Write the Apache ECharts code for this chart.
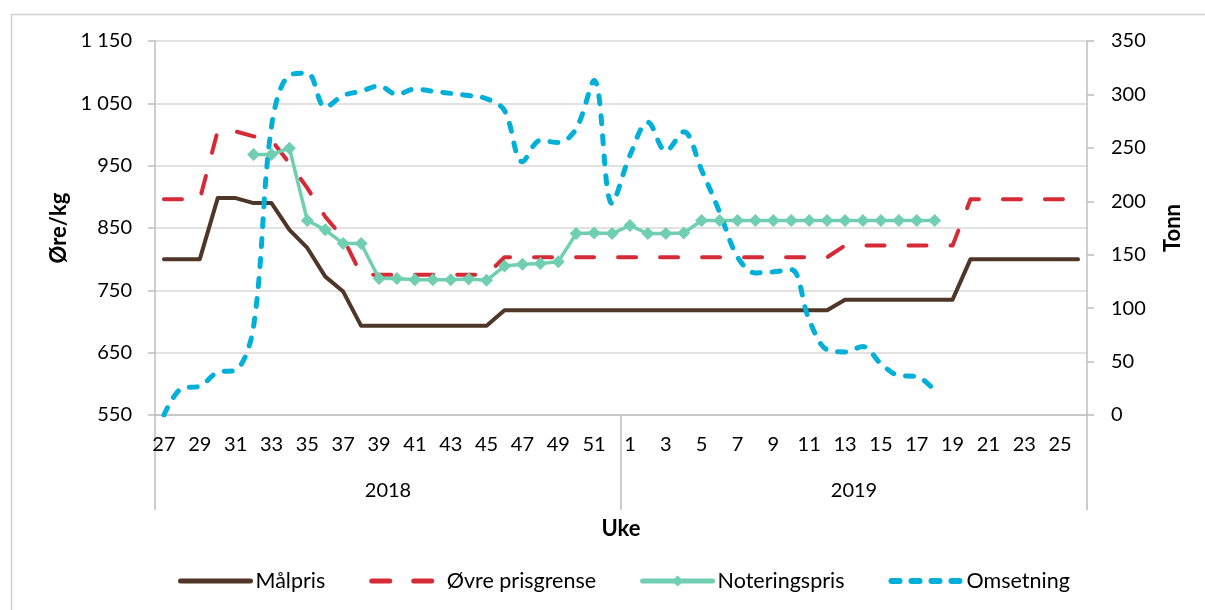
<!DOCTYPE html>
<html>
<head>
<meta charset="utf-8">
<script src="https://cdn.jsdelivr.net/npm/echarts@6/dist/echarts.min.js"></script>
<style>
html, body { margin: 0; padding: 0; background: #fff; }
#chart { width: 1205px; height: 610px; }
</style>
</head>
<body>
<div id="chart"></div>
<script>
// Uker: 2018 uke 27-52, 2019 uke 1-26
var weeks = ['27','28','29','30','31','32','33','34','35','36','37','38','39','40','41','42','43','44','45','46','47','48','49','50','51','52',
             '1','2','3','4','5','6','7','8','9','10','11','12','13','14','15','16','17','18','19','20','21','22','23','24','25','26'];
var years = ['2018', '2019'];

var malpris = [800, 800, 800, 898, 898, 890, 890, 847, 818, 772, 748, 693, 693, 693, 693, 693, 693, 693, 693, 718, 718, 718, 718, 718, 718, 718,
               718, 718, 718, 718, 718, 718, 718, 718, 718, 718, 718, 718, 735, 735, 735, 735, 735, 735, 735, 800, 800, 800, 800, 800, 800, 800];

var ovrePrisgrense = [896, 896, 896, 1006, 1005, 997, 991, 954, 914, 868, 834, 775, 775, 775, 775, 775, 775, 775, 775, 803, 803, 803, 803, 803, 803, 803,
                      803, 803, 803, 803, 803, 803, 803, 803, 803, 803, 803, 803, 822, 822, 822, 822, 822, 822, 822, 896, 896, 896, 896, 896, 896, 896];

var noteringspris = [null, null, null, null, null, 968, 968, 978, 862, 847, 825, 825, 769, 769, 767, 767, 767, 768, 766, 789, 792, 793, 796, 841, 842, 841,
                     854, 841, 841, 842, 862, 862, 862, 862, 862, 862, 862, 862, 862, 862, 862, 862, 862, 862, null, null, null, null, null, null, null, null];

var omsetning = [0, 25, 27, 40, 42, 83, 270, 318, 320, 288, 299, 303, 308, 300, 305, 303, 301, 299, 296, 285, 237, 257, 255, 268, 313, 198,
                 243, 274, 247, 265, 229, 190, 148, 133, 134, 136, 89, 61, 59, 64, 48, 37, 36, 23, null, null, null, null, null, null, null, null];

var fontName = 'Lato';
var axisGray = '#bfbfbf';

function spaceThousands(v) {
    if (v >= 1000) {
        var rest = String(v % 1000);
        while (rest.length < 3) rest = '0' + rest;
        return Math.floor(v / 1000) + ' ' + rest;
    }
    return String(v);
}

var chart = echarts.init(document.getElementById('chart'));
var option = {
    backgroundColor: '#ffffff',
    textStyle: { fontFamily: fontName, color: '#000' },
    animation: false,
    graphic: [
        {
            type: 'rect',
            left: 9, top: 12,
            shape: { width: 1400, height: 800 },
            style: { fill: 'none', stroke: '#d0d0d0', lineWidth: 1.5 },
            silent: true
        }
    ],
    grid: { left: 155, right: 118, top: 41, bottom: 195 },
    legend: {
        top: 565,
        left: 173,
        itemWidth: 70,
        itemHeight: 14,
        itemGap: 44,
        textStyle: { fontFamily: fontName, fontSize: 21.5, color: '#000' },
        data: [
            { name: 'Målpris', itemStyle: { opacity: 0 }, lineStyle: { width: 5, cap: 'round' } },
            { name: 'Øvre prisgrense', itemStyle: { opacity: 0 }, lineStyle: { width: 5, cap: 'round' } },
            { name: 'Noteringspris', lineStyle: { width: 5, cap: 'round' } },
            { name: 'Omsetning', itemStyle: { opacity: 0 }, lineStyle: { width: 6, cap: 'round' } }
        ]
    },
    xAxis: [
        {
            type: 'category',
            data: weeks,
            boundaryGap: true,
            name: 'Uke',
            nameLocation: 'middle',
            nameGap: 103,
            nameTextStyle: { fontFamily: fontName, fontSize: 22, fontWeight: 'bold', color: '#000' },
            axisLine: { lineStyle: { color: axisGray, width: 1.5 } },
            axisTick: { show: false },
            axisLabel: { interval: 1, margin: 20, fontSize: 20, color: '#000' },
            splitLine: { show: false }
        },
        {
            type: 'category',
            data: years,
            position: 'bottom',
            boundaryGap: true,
            axisLine: { show: false },
            axisTick: { show: true, length: 95, lineStyle: { color: axisGray, width: 1.5 } },
            axisLabel: { margin: 66, fontSize: 20, color: '#000' },
            splitLine: { show: false }
        }
    ],
    yAxis: [
        {
            type: 'value',
            min: 550,
            max: 1150,
            interval: 100,
            name: 'Øre/kg',
            nameLocation: 'middle',
            nameRotate: 90,
            nameGap: 84,
            nameTextStyle: { fontFamily: fontName, fontSize: 22, fontWeight: 'bold', color: '#000' },
            axisLine: { show: true, lineStyle: { color: axisGray, width: 1.5 } },
            axisTick: { show: true, length: 7, lineStyle: { color: axisGray, width: 1.5 } },
            axisLabel: { margin: 23, fontSize: 20, color: '#000', formatter: spaceThousands },
            splitLine: { show: true, lineStyle: { color: '#d9d9d9', width: 1.5 } }
        },
        {
            type: 'value',
            min: 0,
            max: 350,
            interval: 50,
            name: 'Tonn',
            nameLocation: 'middle',
            nameRotate: 90,
            nameGap: 75,
            nameTextStyle: { fontFamily: fontName, fontSize: 22, fontWeight: 'bold', color: '#000' },
            axisLine: { show: true, lineStyle: { color: axisGray, width: 1.5 } },
            axisTick: { show: true, length: 7, lineStyle: { color: axisGray, width: 1.5 } },
            axisLabel: { margin: 24, fontSize: 20, color: '#000' },
            splitLine: { show: false }
        }
    ],
    series: [
        {
            name: 'Målpris',
            type: 'line',
            data: malpris,
            yAxisIndex: 0,
            symbol: 'none',
            lineStyle: { color: '#4f3628', width: 4, cap: 'round', join: 'round' },
            itemStyle: { color: '#4f3628' }
        },
        {
            name: 'Øvre prisgrense',
            type: 'line',
            data: ovrePrisgrense,
            yAxisIndex: 0,
            symbol: 'none',
            lineStyle: { color: '#d62a36', width: 4, type: [18, 24], cap: 'round', join: 'round' },
            itemStyle: { color: '#d62a36' }
        },
        {
            name: 'Noteringspris',
            type: 'line',
            data: noteringspris,
            yAxisIndex: 0,
            symbol: 'diamond',
            symbolSize: [13, 13],
            showAllSymbol: true,
            lineStyle: { color: '#6fcfb0', width: 3.5, join: 'round' },
            itemStyle: { color: '#6fcfb0' }
        },
        {
            name: 'Omsetning',
            type: 'line',
            data: omsetning,
            yAxisIndex: 1,
            smooth: 0.35,
            symbol: 'none',
            lineStyle: { color: '#00b0d8', width: 5, type: [8, 12], cap: 'round', join: 'round' },
            itemStyle: { color: '#00b0d8' }
        }
    ]
};
chart.setOption(option);
</script>
</body>
</html>
